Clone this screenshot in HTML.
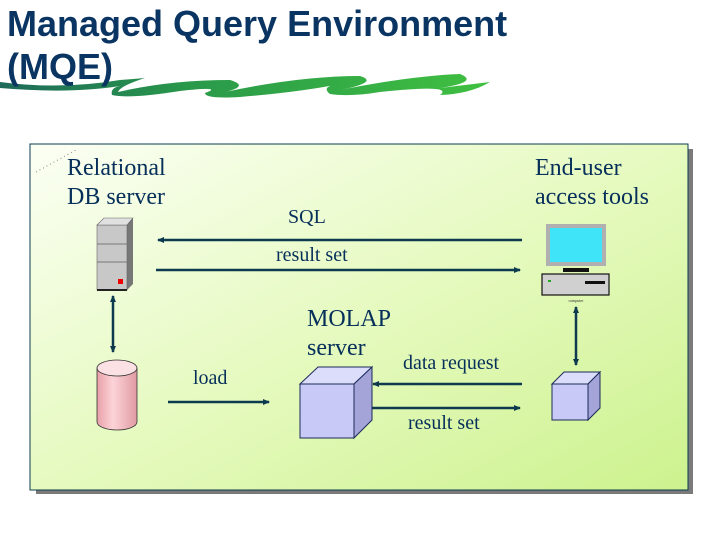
<!DOCTYPE html>
<html><head><style>
body{margin:0;width:720px;height:540px;background:#fff;overflow:hidden;position:relative;font-family:"Liberation Serif",serif}
.t{position:absolute;color:#062f5a;white-space:nowrap}
</style></head><body>
<svg width="720" height="540" style="position:absolute;left:0;top:0">
<defs>
<linearGradient id="w" x1="0" x2="1"><stop offset="0" stop-color="#1d6a5a"/><stop offset="0.4" stop-color="#2a9a4a"/><stop offset="1" stop-color="#40c040"/></linearGradient>
<linearGradient id="bg" x1="0" y1="0" x2="1" y2="1"><stop offset="0" stop-color="#fbfff4"/><stop offset="0.5" stop-color="#e6fac0"/><stop offset="1" stop-color="#cdf28e"/></linearGradient>
<linearGradient id="cy" x1="0" x2="1"><stop offset="0" stop-color="#e8a0a8"/><stop offset="0.4" stop-color="#fcd4d8"/><stop offset="1" stop-color="#e09aa2"/></linearGradient>
<marker id="a" markerWidth="8" markerHeight="8" refX="6" refY="4" orient="auto-start-reverse" markerUnits="userSpaceOnUse"><path d="M0,1 L7,4 L0,7z" fill="#0d3a4e"/></marker>
</defs>
<path d="M0,82 Q60,90 120,80 L145,78 Q120,86 118,92 Q170,80 230,80 Q250,86 225,92 Q300,76 360,76 Q380,82 340,90 Q410,76 460,74 Q480,82 440,88 L490,82 Q470,94 440,95 Q455,84 380,92 Q350,97 330,94 Q320,86 340,84 Q300,92 240,97 Q205,99 205,93 Q225,86 180,91 Q130,99 112,95 Q110,88 120,86 Q70,94 0,88z" fill="url(#w)"/>
<rect x="36" y="149" width="657" height="345" fill="#7a7a7a"/>
<rect x="30" y="144" width="658" height="346" fill="url(#bg)" stroke="#0d3a4e" stroke-width="1"/>
<line x1="36" y1="172" x2="76" y2="150" stroke="#888" stroke-dasharray="1,3"/>
<g stroke="#0d3a4e" stroke-width="2.5" fill="none">
<line x1="522" y1="240" x2="158" y2="240" marker-end="url(#a)"/>
<line x1="156" y1="270" x2="520" y2="270" marker-end="url(#a)"/>
<line x1="113" y1="296" x2="113" y2="352" marker-start="url(#a)" marker-end="url(#a)"/>
<line x1="168" y1="402" x2="269" y2="402" marker-end="url(#a)"/>
<line x1="522" y1="384" x2="373" y2="384" marker-end="url(#a)"/>
<line x1="372" y1="408" x2="520" y2="408" marker-end="url(#a)"/>
<line x1="576" y1="307" x2="576" y2="365" marker-start="url(#a)" marker-end="url(#a)"/>
</g>
<path d="M97,225 L104,218 L133,218 L133,284 L127,290 Z" fill="#777"/>
<rect x="97" y="225" width="30" height="65" fill="#c8c8c8" stroke="#666" stroke-width="0.6"/>
<path d="M97,225 L104,218 L133,218 L127,225Z" fill="#e0e0e0" stroke="#666" stroke-width="0.6"/>
<line x1="97" y1="244" x2="127" y2="244" stroke="#777"/><line x1="97" y1="262" x2="127" y2="262" stroke="#777"/>
<rect x="118" y="279" width="5" height="5" fill="#e00"/>
<rect x="97" y="289" width="30" height="2" fill="#222"/>
<path d="M97,368 L97,422 A20,8 0 0 0 137,422 L137,368" fill="url(#cy)" stroke="#333" stroke-width="0.8"/>
<ellipse cx="117" cy="368" rx="20" ry="8" fill="#fbe0e4" stroke="#333" stroke-width="0.8"/>
<g stroke="#1a2a5a" stroke-width="1">
<rect x="300" y="384" width="54" height="54" fill="#c9c9f7"/>
<path d="M300,384 L318,367 L372,367 L354,384Z" fill="#dcdcfb"/>
<path d="M354,384 L372,367 L372,420 L354,438Z" fill="#a4a4d8"/>
<rect x="552" y="384" width="36" height="36" fill="#c9c9f7"/>
<path d="M552,384 L564,372 L600,372 L588,384Z" fill="#dcdcfb"/>
<path d="M588,384 L600,372 L600,408 L588,420Z" fill="#a4a4d8"/>
</g>
<rect x="546" y="224" width="60" height="42" fill="#b0b0b0"/>
<rect x="550" y="228" width="52" height="34" fill="#40e4f8"/>
<rect x="563" y="268" width="26" height="4" fill="#111"/>
<rect x="542" y="274" width="67" height="21" fill="#d0d0d0" stroke="#111" stroke-width="1.2"/>
<rect x="548" y="280" width="3" height="2" fill="#2a2"/>
<rect x="585" y="281" width="20" height="3" fill="#111"/>
<text x="576" y="302" font-size="4" text-anchor="middle" fill="#333">computer</text>
</svg>
<div class="t" style="left:7px;top:2px;font:bold 36px/43px 'Liberation Sans',sans-serif;color:#0a3563">Managed Query Environment<br>(MQE)</div>
<div class="t" style="left:67px;top:154px;font-size:24px;line-height:29px">Relational<br>DB server</div>
<div class="t" style="left:535px;top:154px;font-size:24px;line-height:29px">End-user<br>access tools</div>
<div class="t" style="left:288px;top:206px;font-size:20px">SQL</div>
<div class="t" style="left:276px;top:244px;font-size:20px">result set</div>
<div class="t" style="left:307px;top:305px;font-size:24px;line-height:29px">MOLAP<br>server</div>
<div class="t" style="left:193px;top:367px;font-size:20px">load</div>
<div class="t" style="left:403px;top:352px;font-size:20px">data request</div>
<div class="t" style="left:408px;top:412px;font-size:20px">result set</div>
</body></html>
